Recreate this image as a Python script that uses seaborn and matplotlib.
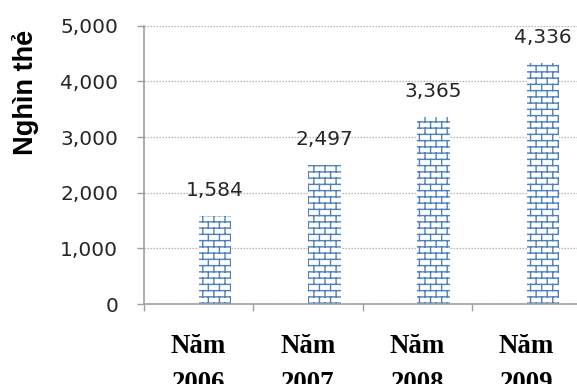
import warnings
import numpy as np
import pandas as pd
import matplotlib
matplotlib.use("Agg")
import matplotlib.pyplot as plt
from matplotlib import hatch as mhatch
from matplotlib.path import Path
import seaborn as sns

# ---- data ----
years = ["Năm\n2006", "Năm\n2007", "Năm\n2008", "Năm\n2009"]
cards = [1584, 2497, 3365, 4336]          # nghìn thẻ
series_order = ["(trống)", "Số thẻ"]      # first slot left empty, as in the source workbook
y_ticks = [0, 1000, 2000, 3000, 4000, 5000]

BLUE = "#4F81BD"
GRID = "#B4B4B4"
AXIS = "#A0A0A0"
TEXT = "#262626"


class BrickHatch(mhatch.HatchPatternBase):
    """Staggered brick-wall hatch, selected with the 'b' hatch character."""
    rows = 16
    cols = 9

    def __init__(self, hatch, density):
        self.active = "b" in hatch
        if self.active:
            # horizontal courses + vertical joints (last course wraps the tile)
            self.num_vertices = 2 * self.rows + 2 * self.rows * self.cols + 2 * self.cols
        else:
            self.num_vertices = 0

    def set_vertices_and_codes(self, vertices, codes):
        r, c = self.rows, self.cols
        segs = []
        for k in range(r):
            y = (k + 0.5) / r
            segs.append(((0.0, y), (1.0, y)))
        for k in range(r):
            y0 = (k + 0.5) / r
            y1 = (k + 1.5) / r
            shift = 0.5 * (k % 2)
            for j in range(c):
                x = (j + 0.25 + shift) / c
                if y1 <= 1.0:
                    segs.append(((x, y0), (x, y1)))
                else:
                    segs.append(((x, y0), (x, 1.0)))
                    segs.append(((x, 0.0), (x, y1 - 1.0)))
        arr = np.array(segs, dtype=float).reshape(-1, 2)
        vertices[:] = arr
        codes[0::2] = Path.MOVETO
        codes[1::2] = Path.LINETO


mhatch._hatch_types.append(BrickHatch)

sns.set_theme(style="white")
plt.rcParams["font.family"] = ["DejaVu Sans"]
plt.rcParams["hatch.linewidth"] = 1.0

df = pd.DataFrame({
    "year": years,
    "series": [series_order[1]] * len(years),
    "value": cards,
})

fig = plt.figure(figsize=(5.77, 3.84), dpi=100)
ax = fig.add_axes([144 / 577, 1 - 304 / 384, 437.2 / 577, 278.3 / 384])

with warnings.catch_warnings():
    warnings.simplefilter("ignore")
    sns.barplot(
        data=df, x="year", y="value", hue="series", hue_order=series_order,
        order=years, palette={s: "white" for s in series_order},
        width=0.6, dodge=True, legend=False, ax=ax,
        edgecolor=BLUE, linewidth=0, hatch="b", zorder=2,
    )

# value labels above each bar
for cont in ax.containers:
    for rect, v in zip(cont.patches, cards):
        ax.annotate(f"{v:,}", (rect.get_x() + rect.get_width() / 2, v),
                    xytext=(0, 14.5), textcoords="offset points",
                    ha="center", va="baseline", fontsize=14.5, color=TEXT)

ax.set_xlim(-0.5, len(years) - 0.5)
ax.set_ylim(0, 5000)
ax.set_yticks(y_ticks)
ax.set_yticklabels([f"{t:,}" for t in y_ticks])

ax.set_axisbelow(True)
ax.yaxis.grid(True, color=GRID, linestyle=(0, (1.2, 1.2)), linewidth=0.9)
ax.xaxis.grid(False)

for s in ["top", "right"]:
    ax.spines[s].set_visible(False)
for s in ["left", "bottom"]:
    ax.spines[s].set_color(AXIS)
    ax.spines[s].set_linewidth(1.2)

ax.tick_params(axis="y", which="major", direction="out", length=5, width=1.0,
               color=AXIS, pad=13.7, labelsize=14.5, labelcolor=TEXT, left=True)
ax.set_xticks(np.arange(-0.5, len(years) + 0.5, 1.0), minor=True)
ax.tick_params(axis="x", which="minor", direction="out", length=5, width=1.0,
               color=AXIS, bottom=True)
ax.tick_params(axis="x", which="major", length=0, pad=21.9)
for lbl in ax.get_xticklabels():
    lbl.set_fontfamily("Liberation Serif")
    lbl.set_fontweight("bold")
    lbl.set_fontsize(19.4)
    lbl.set_color("black")
    lbl.set_linespacing(1.6)

ax.set_xlabel("")
ax.set_ylabel("Nghìn thẻ", fontfamily="Liberation Sans", fontweight="bold",
              fontsize=19.5, color="black")
ax.yaxis.set_label_coords(-0.240, 0.760)

fig.savefig("out.png", dpi=100)
